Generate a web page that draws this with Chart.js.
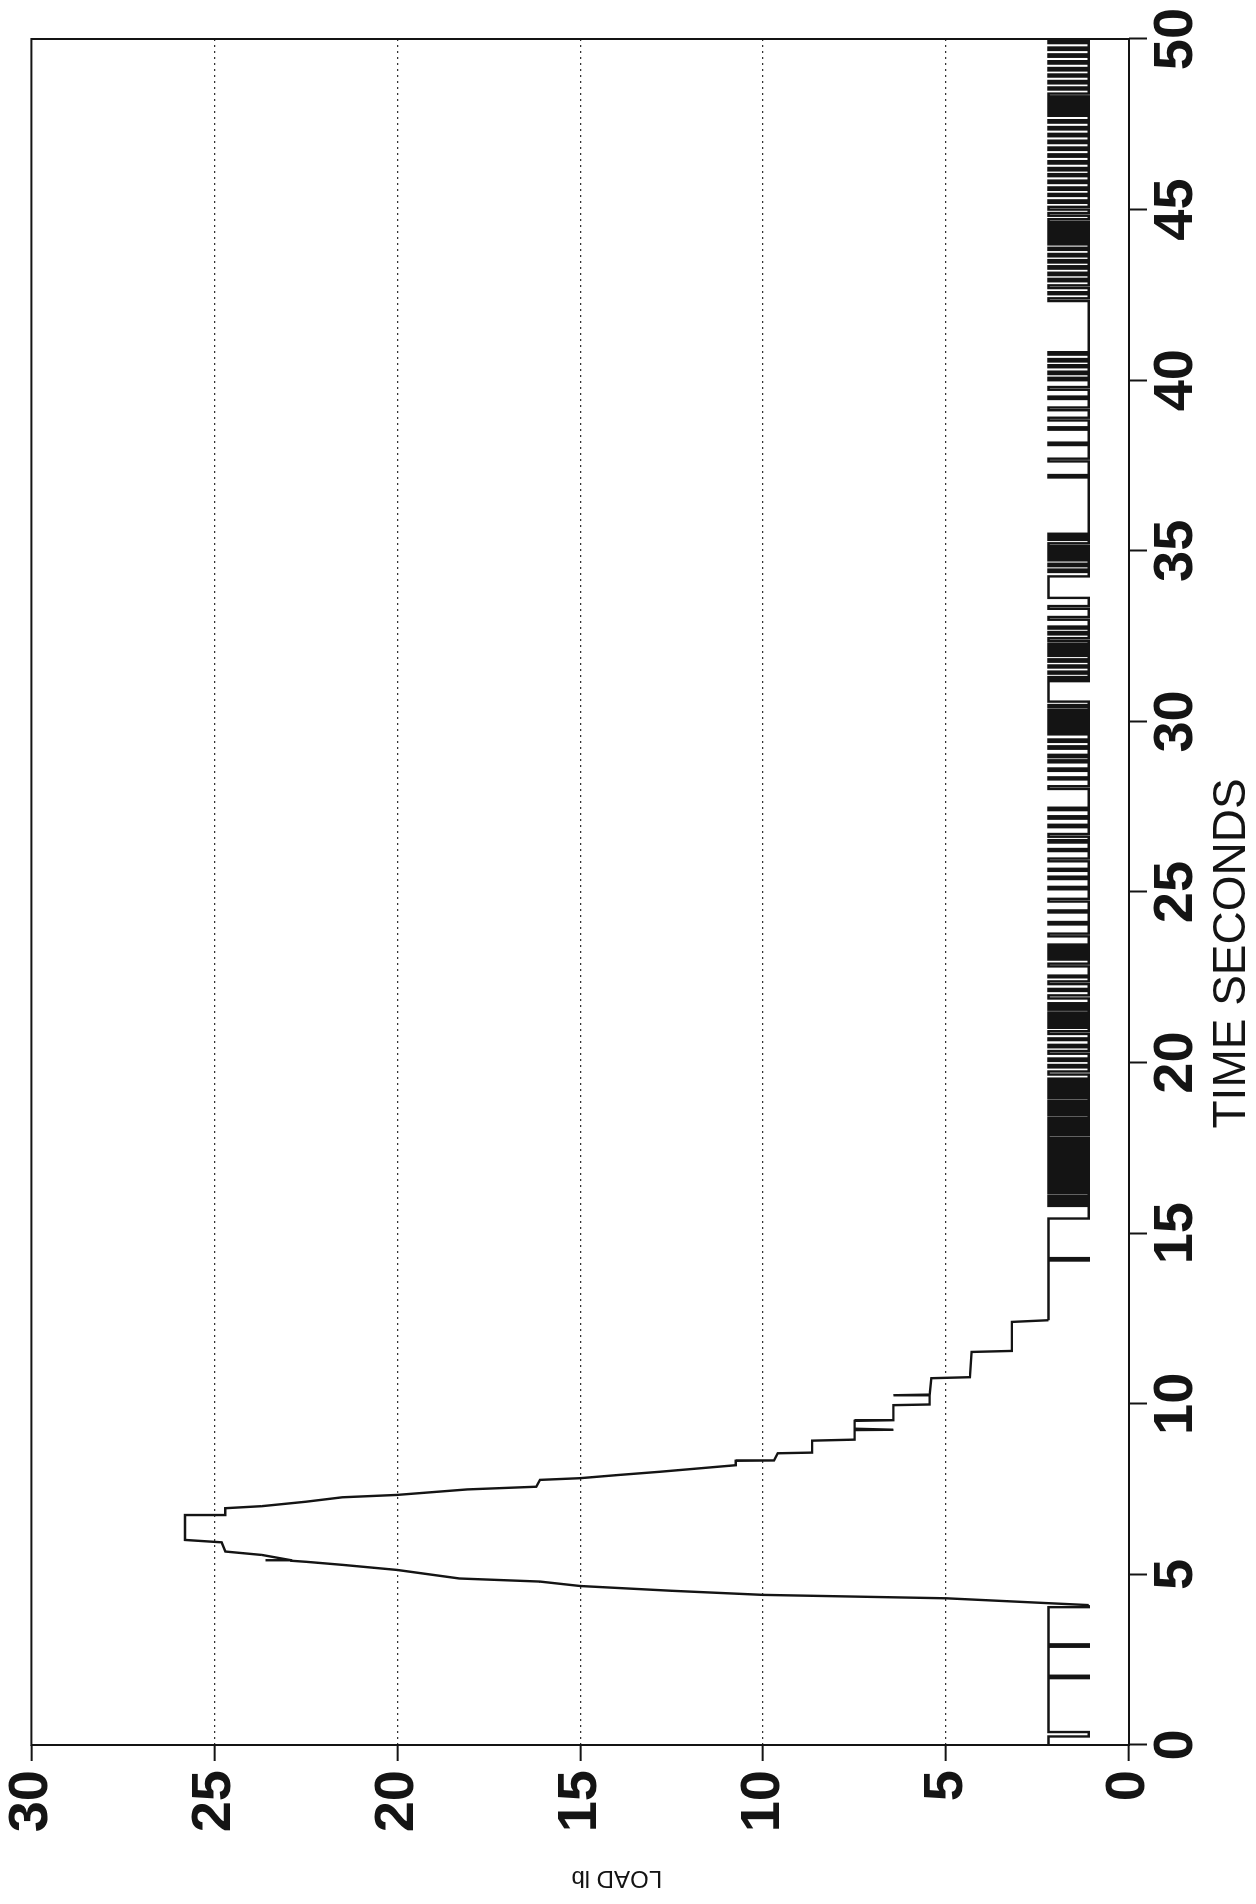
<!DOCTYPE html>
<html>
<head>
<meta charset="utf-8">
<title>Load vs time</title>
<script src="https://cdn.jsdelivr.net/npm/chart.js@4.4.1/dist/chart.umd.min.js"></script>
<style>
  html, body { margin: 0; padding: 0; background: #fff; }
  body { width: 1256px; height: 1904px; position: relative; overflow: hidden; }
  /* chart is drawn upright, then turned a quarter turn like the scanned page */
  #wrap { position: absolute; left: 0; top: 0; width: 1904px; height: 1256px;
          transform-origin: 0 0; transform: translate(0, 1904px) rotate(-90deg); }
</style>
</head>
<body>
<div id="wrap"><canvas id="load" width="1904" height="1256"></canvas></div>
<script>
'use strict';

// axis ticks
const timeTicks = [0, 5, 10, 15, 20, 25, 30, 35, 40, 45, 50];
const loadTicks = [0, 5, 10, 15, 20, 25, 30];
const timeTitle = 'TIME SECONDS';
const loadTitle = 'LOAD lb';

// resting levels of the trace (lb)
const HIGH = 2.2;
const LOW = 1.1;

// before the pull: level holds at HIGH with a few short dips
const preTimes = [0, 0.25, 0.38, 1.96, 2.03, 2.88, 2.95, 4.04, 4.10];
const preLoads = [2.2, 1.1, 2.2, 1.1, 2.2, 1.1, 2.2, 1.1, 1.1];

// the pull itself (corner points of the trace)
const peakTimes = [4.10, 4.30, 4.40, 4.52, 4.66, 4.79, 4.88, 5.13, 5.28, 5.37, 5.40, 5.41, 5.42, 5.57, 5.67, 5.94, 6.01,
  6.74, 6.74, 6.94, 7.00, 7.13, 7.26, 7.33, 7.49, 7.57, 7.77, 7.82, 7.91, 8.01, 8.14, 8.20, 8.33, 8.34, 8.55, 8.57,
  8.92, 8.95, 9.23, 9.24, 9.26, 9.27, 9.50, 9.52, 9.96, 9.98, 10.24, 10.25, 10.27, 10.75, 10.78, 11.52, 11.55, 12.40, 12.45];
const peakLoads = [1.1, 5.0, 10.0, 12.5, 15.0, 16.1, 18.3, 20.0, 21.5, 22.5, 22.9, 23.6, 22.9, 23.7, 24.7, 24.8, 25.8,
  25.8, 24.7, 24.7, 23.7, 22.5, 21.5, 20.0, 18.1, 16.2, 16.1, 15.0, 14.0, 12.8, 11.4, 10.75, 10.75, 9.7, 9.6, 8.66,
  8.66, 7.5, 7.5, 6.44, 6.44, 7.5, 7.5, 6.44, 6.44, 5.45, 5.45, 6.44, 5.45, 5.4, 4.35, 4.3, 3.2, 3.2, 2.2];

// after the pull
const tailTimes = [12.45, 14.20, 14.27, 15.43];
const tailLoads = [2.2, 1.1, 2.2, 1.1];

// short HIGH pulses [start, end] on the LOW level from 15.4 s on
const tailPulses = [
  [15.80, 15.86], [15.93, 15.99], [16.05, 16.10], [16.18, 16.24], [16.30, 16.37], [16.43, 16.48], [16.55, 16.62],
  [16.68, 16.73], [16.80, 16.86], [16.93, 16.98], [17.05, 17.12], [17.18, 17.23], [17.30, 17.37], [17.42, 17.49],
  [17.56, 17.61], [17.68, 17.74], [17.80, 17.88], [17.93, 18.00], [18.07, 18.12], [18.19, 18.25], [18.32, 18.37],
  [18.45, 18.50], [18.57, 18.64], [18.70, 18.76], [18.83, 18.88], [18.96, 19.02], [19.08, 19.15], [19.21, 19.27],
  [19.34, 19.40], [19.47, 19.53],
  [19.65, 19.74], [19.86, 19.93], [20.05, 20.12], [20.26, 20.34], [20.45, 20.52], [20.66, 20.71], [20.84, 20.92],
  [21.02, 21.08], [21.15, 21.21], [21.28, 21.35], [21.41, 21.47], [21.55, 21.61], [21.68, 21.74],
  [21.88, 21.97], [22.10, 22.16], [22.30, 22.38], [22.50, 22.55], [22.82, 22.90],
  [23.02, 23.08], [23.14, 23.20], [23.27, 23.33], [23.40, 23.46],
  [23.70, 23.78], [24.05, 24.12], [24.40, 24.46], [24.72, 24.80],
  [25.08, 25.15], [25.38, 25.45], [25.62, 25.68], [25.90, 25.98], [26.20, 26.26], [26.45, 26.52], [26.62, 26.70],
  [26.90, 26.97], [27.15, 27.22], [27.40, 27.47],
  [28.02, 28.10], [28.30, 28.36], [28.55, 28.62], [28.80, 28.86], [28.95, 29.02], [29.20, 29.27], [29.40, 29.47],
  [29.62, 29.68], [29.75, 29.81], [29.88, 29.95], [30.01, 30.08], [30.15, 30.21], [30.28, 30.34], [30.42, 30.48],
  [30.58, 31.18],
  [31.24, 31.30], [31.40, 31.46], [31.58, 31.64], [31.75, 31.82], [31.92, 31.98], [32.03, 32.08], [32.13, 32.18],
  [32.23, 32.28], [32.36, 32.44], [32.55, 32.62], [32.72, 32.78],
  [32.98, 33.06], [33.30, 33.38], [33.62, 34.25],
  [34.38, 34.45], [34.55, 34.62], [34.72, 34.78], [34.83, 34.88], [34.93, 34.98], [35.03, 35.08], [35.14, 35.22],
  [35.32, 35.38], [35.45, 35.50],
  [37.15, 37.22], [37.62, 37.70], [38.10, 38.17], [38.55, 38.62], [38.82, 38.90], [39.12, 39.20], [39.45, 39.52],
  [39.72, 39.80],
  [40.00, 40.07], [40.18, 40.25], [40.38, 40.44], [40.55, 40.62], [40.75, 40.82],
  [42.32, 42.40], [42.52, 42.58], [42.70, 42.78], [42.90, 42.97], [43.08, 43.15], [43.27, 43.34], [43.45, 43.52],
  [43.63, 43.70], [43.82, 43.88], [43.98, 44.05], [44.12, 44.17], [44.22, 44.27], [44.32, 44.37], [44.42, 44.47],
  [44.52, 44.57], [44.64, 44.72], [44.82, 44.90], [45.00, 45.08], [45.20, 45.27], [45.40, 45.46], [45.58, 45.65],
  [45.78, 45.85], [45.98, 46.04], [46.15, 46.22], [46.35, 46.42], [46.55, 46.62], [46.75, 46.82], [46.95, 47.02],
  [47.15, 47.22], [47.35, 47.42], [47.55, 47.62], [47.75, 47.80], [47.86, 47.91], [47.97, 48.02], [48.08, 48.13],
  [48.19, 48.25], [48.32, 48.40], [48.52, 48.58], [48.70, 48.77], [48.90, 48.96], [49.08, 49.15], [49.28, 49.35],
  [49.48, 49.55], [49.68, 49.75], [49.88, 49.95]
];

const toPoints = function(times, loads) {
  return times.map((t, i) => ({ x: t, y: loads[i] }));
};

const tailPoints = toPoints(tailTimes, tailLoads);
tailPulses.forEach(p => {
  tailPoints.push({ x: p[0], y: HIGH });
  tailPoints.push({ x: p[1], y: LOW });
});
tailPoints.push({ x: timeTicks[timeTicks.length - 1], y: LOW });

const INK = '#141414';
const tickFont = { family: '"Liberation Sans", Arial, Helvetica, sans-serif', size: 56, weight: 'bold' };

const traceStyle = {
  borderColor: INK,
  borderWidth: 2.4,
  pointRadius: 0,
  fill: false,
  tension: 0
};

// box round the plot area
const frame = {
  id: 'frame',
  afterDatasetsDraw(chart) {
    const { ctx, chartArea: a } = chart;
    ctx.save();
    ctx.strokeStyle = INK;
    ctx.lineWidth = 2;
    ctx.strokeRect(a.left, a.top, a.right - a.left, a.bottom - a.top);
    ctx.restore();
  }
};

// axis titles, placed where the original has them
const axisTitles = {
  id: 'axisTitles',
  afterDraw(chart) {
    const { ctx, scales: { x, y } } = chart;
    ctx.save();
    ctx.fillStyle = INK;
    ctx.textAlign = 'center';
    ctx.textBaseline = 'middle';
    ctx.font = '46px "Liberation Sans", Arial, sans-serif';
    ctx.fillText(timeTitle, x.getPixelForValue(23.2), 1232);
    ctx.translate(26, y.getPixelForValue(14));
    ctx.rotate(-Math.PI / 2);
    ctx.font = '24px "Liberation Sans", Arial, sans-serif';
    ctx.fillText(loadTitle, 0, 0);
    ctx.restore();
  }
};

const ctx = document.getElementById('load');

new Chart(ctx, {
  type: 'line',
  data: {
    datasets: [
      Object.assign({ data: toPoints(preTimes, preLoads), stepped: true }, traceStyle),
      Object.assign({ data: toPoints(peakTimes, peakLoads) }, traceStyle),
      Object.assign({ data: tailPoints, stepped: true }, traceStyle)
    ]
  },
  options: {
    responsive: false,
    devicePixelRatio: 1,
    animation: false,
    events: [],
    layout: { padding: { left: 0, right: 39, top: 24, bottom: 0 } },
    plugins: { legend: { display: false }, tooltip: { enabled: false } },
    scales: {
      x: {
        type: 'linear',
        min: timeTicks[0],
        max: timeTicks[timeTicks.length - 1],
        afterBuildTicks: s => { s.ticks = timeTicks.map(v => ({ value: v })); },
        afterFit: s => { s.height = 127; },
        grid: { drawOnChartArea: false, drawTicks: true, tickLength: 18, tickColor: INK, tickWidth: 2, color: INK },
        border: { display: false },
        ticks: { color: INK, font: Object.assign({ lineHeight: 1 }, tickFont), padding: 2, maxRotation: 0 }
      },
      y: {
        type: 'linear',
        min: loadTicks[0],
        max: loadTicks[loadTicks.length - 1],
        afterBuildTicks: s => { s.ticks = loadTicks.map(v => ({ value: v })); },
        afterFit: s => { s.width = 159; },
        grid: {
          color: c => (c.tick && (c.tick.value === 0 || c.tick.value === 30)) ? 'rgba(0,0,0,0)' : '#333',
          lineWidth: 1.3,
          tickLength: 16,
          tickColor: INK,
          tickWidth: 2
        },
        border: { display: false, dash: [2, 4] },
        ticks: { color: INK, font: Object.assign({ lineHeight: 0.8 }, tickFont), padding: 9 }
      }
    }
  },
  plugins: [frame, axisTitles]
});
</script>
</body>
</html>
